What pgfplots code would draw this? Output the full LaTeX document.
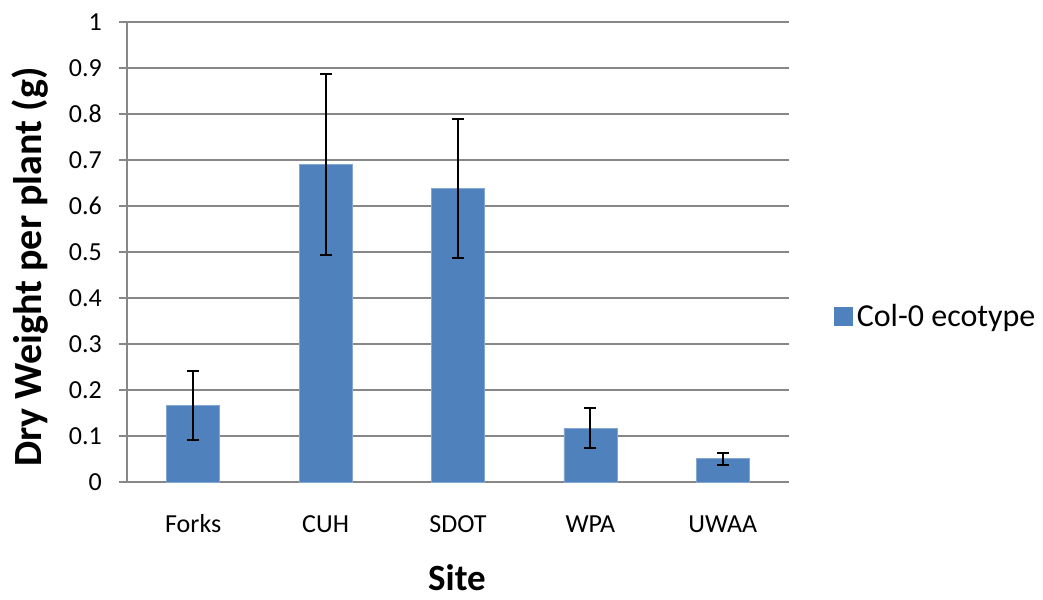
\documentclass[border=0pt]{standalone}
\usepackage{pgfplots}
\pgfplotsset{compat=1.18}
\usepackage{fontspec}
\setmainfont{Carlito}
\definecolor{barblue}{HTML}{4F81BD}
\definecolor{gridgray}{HTML}{878787}
\begin{document}
\begin{tikzpicture}
\path[use as bounding box] (0,0) rectangle (1043bp,600bp);
\begin{axis}[
  at={(127bp,118bp)}, anchor=south west,
  scale only axis,
  width=662bp, height=460bp,
  xmin=-0.5, xmax=4.5,
  ymin=0, ymax=1,
  xtick={0,1,2,3,4},
  xticklabels={Forks,CUH,SDOT,WPA,UWAA},
  ytick={0,0.1,0.2,0.3,0.4,0.5,0.6,0.7,0.8,0.9,1},
  yticklabels={0,0.1,0.2,0.3,0.4,0.5,0.6,0.7,0.8,0.9,1},
  axis x line*=bottom,
  axis y line*=left,
  axis line style={draw=gridgray, line width=1.2bp, -},
  ymajorgrids,
  grid style={draw=gridgray, line width=1.2bp},
  tick align=outside,
  major tick length=8bp,
  ytick style={draw=gridgray, line width=1.2bp},
  xtick style={draw=none},
  tick label style={font=\fontsize{26bp}{30bp}\selectfont},
  yticklabel style={anchor=east, inner sep=0pt, xshift=-17bp},
  xticklabel style={anchor=base, inner sep=0pt, yshift=-43bp},
  xlabel={Site},
  ylabel={Dry Weight per plant (g)},
  xlabel style={font=\fontsize{37bp}{42bp}\selectfont\bfseries,
    at={(axis description cs:0.4985,-0.207)}, anchor=center, inner sep=0pt},
  ylabel style={font=\fontsize{40bp}{44bp}\selectfont\bfseries,
    at={(axis description cs:-0.1465,0.467)}, anchor=center, inner sep=0pt},
  legend style={at={(axis description cs:1.068,0.361)}, anchor=west, draw=none, fill=none,
    font=\fontsize{32bp}{36bp}\selectfont, inner sep=0pt},
  legend image code/.code={\fill[barblue] (0bp,-9bp) rectangle (18bp,9bp);},
  legend cell align=left,
  legend style={nodes={inner xsep=4bp}},
  clip=false,
]
\addplot[ybar, bar width=0.4, fill=barblue, draw=barblue!70!white, line width=0.6bp,
  error bars/.cd, y dir=both, y explicit,
  error bar style={black, line width=2bp},
  error mark options={black, rotate=90, mark size=6bp, line width=2bp}]
  coordinates {
  (0,0.166) +- (0,0.075)
  (1,0.690) +- (0,0.196)
  (2,0.638) +- (0,0.152)
  (3,0.117) +- (0,0.043)
  (4,0.051) +- (0,0.013)
  };
\addlegendentry{Col-0 ecotype}
\end{axis}
\end{tikzpicture}
\end{document}
